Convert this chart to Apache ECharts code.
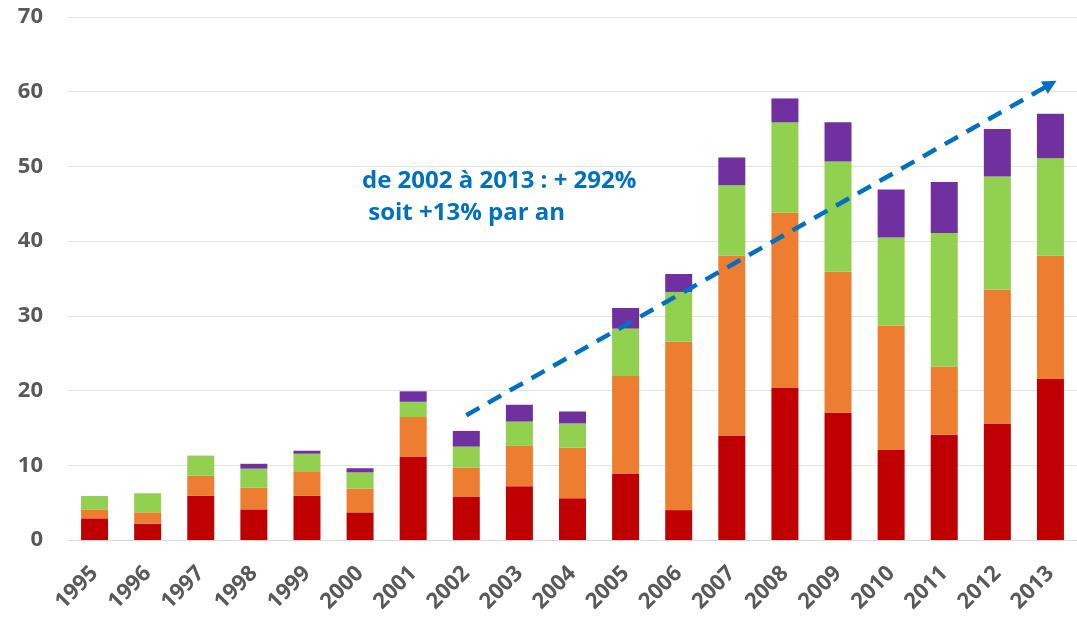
<!DOCTYPE html>
<html>
<head>
<meta charset="utf-8">
<script src="https://cdn.jsdelivr.net/npm/echarts@6/dist/echarts.min.js"></script>
<style>
html,body{margin:0;padding:0;background:#fff;}
#chart{width:1077px;height:617px;}
</style>
</head>
<body>
<div id="chart"></div>
<script>
const years = ['1995','1996','1997','1998','1999','2000','2001','2002','2003','2004','2005','2006','2007','2008','2009','2010','2011','2012','2013'];
const redVals    = [2.9, 2.2, 5.9, 4.1, 5.9, 3.7, 11.1, 5.75, 7.2, 5.6, 8.9, 4.0, 14.0, 20.35, 17.05, 12.05, 14.1, 15.6, 21.55];
const orangeVals = [1.2, 1.5, 2.7, 2.9, 3.3, 3.2, 5.35, 3.95, 5.4, 6.75, 13.05, 22.55, 24.05, 23.45, 18.85, 16.65, 9.1, 17.9, 16.5];
const greenVals  = [1.8, 2.55, 2.7, 2.55, 2.35, 2.15, 2.05, 2.8, 3.25, 3.25, 6.35, 6.65, 9.45, 12.1, 14.75, 11.8, 17.9, 15.15, 13.05];
const purpleVals = [0, 0, 0, 0.65, 0.4, 0.55, 1.4, 2.1, 2.25, 1.6, 2.75, 2.4, 3.7, 3.2, 5.25, 6.4, 6.8, 6.35, 5.95];
const yTicks = [0, 10, 20, 30, 40, 50, 60, 70];
const trendStart = [7.02, 16.7];
const trendEnd = [18.03, 61.0];
const noteLines = ['de 2002 à 2013 : + 292%', ' soit +13% par an'];

const colors = ['#C00000', '#ED7D31', '#92D050', '#7030A0'];
const font = '"Open Sans", "Noto Sans", sans-serif';

function barSeries(name, data, color, extra) {
  return Object.assign({
    name: name,
    type: 'bar',
    stack: 'total',
    data: data,
    barWidth: 27,
    itemStyle: { color: color },
    emphasis: { disabled: true }
  }, extra || {});
}

const chart = echarts.init(document.getElementById('chart'));
chart.setOption({
  animation: false,
  grid: { left: 68, top: 17, bottom: 77, width: 1022, containLabel: false },
  xAxis: {
    type: 'category',
    data: years,
    axisLine: { show: true, lineStyle: { color: '#d9d9d9', width: 1 } },
    axisTick: { show: false },
    axisLabel: {
      rotate: 45,
      margin: 30,
      color: '#595959',
      fontFamily: font,
      fontWeight: 'bold',
      fontSize: 22,
      interval: 0
    }
  },
  yAxis: {
    type: 'value',
    min: yTicks[0],
    max: yTicks[yTicks.length - 1],
    interval: 10,
    axisLine: { show: false },
    axisTick: { show: false },
    splitLine: { lineStyle: { color: '#e3e3e3', width: 1 } },
    axisLabel: {
      margin: 25,
      color: '#595959',
      fontFamily: font,
      fontWeight: 'bold',
      fontSize: 22
    }
  },
  series: [
    barSeries('s1', redVals, colors[0]),
    barSeries('s2', orangeVals, colors[1]),
    barSeries('s3', greenVals, colors[2]),
    barSeries('s4', purpleVals, colors[3], {
      markLine: {
        silent: true,
        symbol: ['none', 'triangle'],
        symbolSize: [14, 14],
        label: { show: false },
        lineStyle: { color: '#0070C0', width: 4.5, type: [15, 10] },
        emphasis: { disabled: true },
        data: [[{ coord: trendStart }, { coord: trendEnd }]]
      }
    })
  ],
  graphic: [
    {
      type: 'text', left: 362, top: 169,
      style: { text: noteLines[0], fill: '#0070C0', font: 'bold 24px ' + font }
    },
    {
      type: 'text', left: 362, top: 201,
      style: { text: noteLines[1], fill: '#0070C0', font: 'bold 24px ' + font }
    }
  ]
});
</script>
</body>
</html>
